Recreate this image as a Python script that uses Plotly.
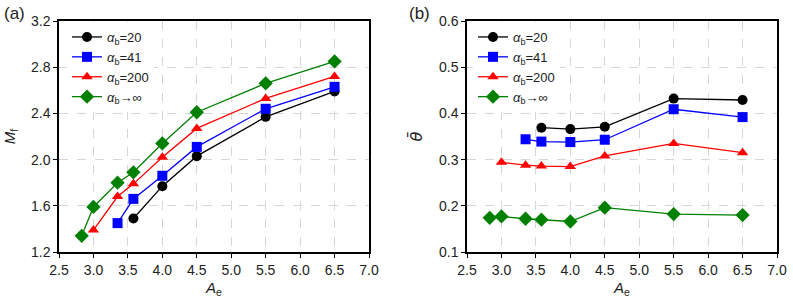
import plotly.graph_objects as go

# Data
ae_20 = [3.58, 4.0, 4.5, 5.5, 6.5]
ae_41 = [3.35, 3.58, 4.0, 4.5, 5.5, 6.5]
ae_200 = [3.0, 3.35, 3.58, 4.0, 4.5, 5.5, 6.5]
ae_inf = [2.83, 3.0, 3.35, 3.58, 4.0, 4.5, 5.5, 6.5]

mf_20 = [1.49, 1.77, 2.03, 2.37, 2.59]
mf_41 = [1.45, 1.66, 1.86, 2.11, 2.44, 2.63]
mf_200 = [1.39, 1.68, 1.79, 2.02, 2.27, 2.53, 2.72]
mf_inf = [1.34, 1.59, 1.80, 1.89, 2.14, 2.41, 2.66, 2.85]

th_20 = [0.369, 0.366, 0.371, 0.432, 0.429]
th_41 = [0.344, 0.339, 0.338, 0.343, 0.409, 0.392]
th_200 = [0.294, 0.288, 0.286, 0.285, 0.308, 0.335, 0.315]
th_inf = [0.174, 0.177, 0.172, 0.170, 0.166, 0.196, 0.182, 0.180]

names = ["<i>α</i><sub>b</sub>=20", "<i>α</i><sub>b</sub>=41",
         "<i>α</i><sub>b</sub>=200", "<i>α</i><sub>b</sub>→∞"]
colors = ["#000000", "#0000ff", "#ff0000", "#008000"]
symbols = ["circle", "square", "triangle-up", "diamond"]
sizes = [10, 10, 10, 11]

FONT = "Liberation Sans, Arial, sans-serif"

fig = go.Figure()

xs = [ae_20, ae_41, ae_200, ae_inf]
left = [mf_20, mf_41, mf_200, mf_inf]
right = [th_20, th_41, th_200, th_inf]

for i in range(4):
    fig.add_trace(go.Scatter(
        x=xs[i], y=left[i], mode="lines+markers", name=names[i],
        line=dict(color=colors[i], width=1.3),
        marker=dict(symbol=symbols[i], size=sizes[i], color=colors[i]),
        xaxis="x", yaxis="y", legend="legend"))
for i in range(4):
    fig.add_trace(go.Scatter(
        x=xs[i], y=right[i], mode="lines+markers", name=names[i],
        line=dict(color=colors[i], width=1.3),
        marker=dict(symbol=symbols[i], size=sizes[i], color=colors[i]),
        xaxis="x2", yaxis="y2", legend="legend2"))

W, H = 793, 302
ML, MR, MT, MB = 59, 16, 21, 50
PW = W - ML - MR
PH = H - MT - MB

axis_common = dict(
    showline=True, linecolor="black", linewidth=1.5, mirror=True,
    ticks="outside", ticklen=4, tickwidth=1.2, tickcolor="black",
    showgrid=True, gridcolor="#d6d6d6", griddash="dash", gridwidth=1,
    zeroline=False, automargin=False,
    tickfont=dict(size=14, color="#222", family=FONT),
)

fig.update_layout(
    width=W, height=H,
    margin=dict(l=ML, r=MR, t=MT, b=MB, autoexpand=False),
    paper_bgcolor="white", plot_bgcolor="white",
    font=dict(family=FONT, size=14, color="#222"),
    xaxis=dict(domain=[0, 310 / PW], range=[2.5, 7.0], dtick=0.5,
               tickformat=".1f", anchor="y",
               title=dict(text="<i>A</i><sub>e</sub>", standoff=6,
                          font=dict(size=15)), **axis_common),
    yaxis=dict(domain=[0, 1], range=[1.2, 3.2], dtick=0.4, tickformat=".1f",
               anchor="x",
               title=dict(text="<i>M</i><sub>f</sub>", standoff=12,
                          font=dict(size=15)), **axis_common),
    xaxis2=dict(domain=[(467 - ML) / PW, 1], range=[2.5, 7.0], dtick=0.5,
                tickformat=".1f", anchor="y2",
                title=dict(text="<i>A</i><sub>e</sub>", standoff=6,
                           font=dict(size=15)), **axis_common),
    yaxis2=dict(domain=[0, 1], range=[0.1, 0.6], dtick=0.1, tickformat=".1f",
                anchor="x2",
                title=dict(text="<i>θ̄</i>", standoff=12,
                           font=dict(size=16, family="DejaVu Sans")),
                **axis_common),
    legend=dict(x=8 / PW, y=1 - 1 / PH, xanchor="left",
                yanchor="top", bgcolor="white", borderwidth=0,
                font=dict(size=13), tracegroupgap=0, itemwidth=30),
    legend2=dict(x=(473 - ML) / PW, y=1 - 1 / PH, xanchor="left",
                 yanchor="top", bgcolor="white", borderwidth=0,
                 font=dict(size=13), tracegroupgap=0, itemwidth=30),
    annotations=[
        dict(text="(a)", x=(2 - ML) / PW, y=(H - 2 - MB) / PH,
             xref="paper", yref="paper", xanchor="left", yanchor="top",
             showarrow=False, font=dict(size=17, color="#222")),
        dict(text="(b)", x=(407 - ML) / PW, y=(H - 2 - MB) / PH,
             xref="paper", yref="paper", xanchor="left", yanchor="top",
             showarrow=False, font=dict(size=17, color="#222")),
    ],
)

fig.write_html("out.html",
               config={"displayModeBar": False},
               post_script="document.body.style.margin='0';"
                           "document.body.style.overflow='hidden';")
